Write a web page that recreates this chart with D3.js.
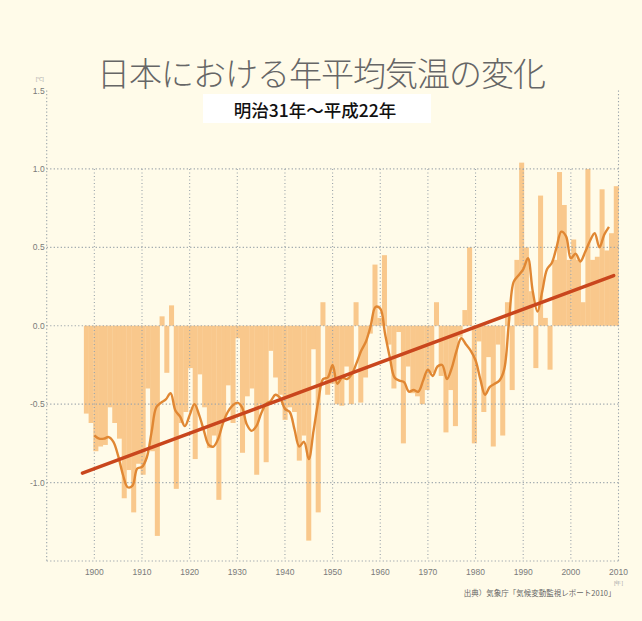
<!DOCTYPE html>
<html>
<head>
<meta charset="utf-8">
<script src="https://cdn.jsdelivr.net/npm/d3@7"></script>
<style>
  html, body { margin: 0; padding: 0; background: #fffbe9; }
  svg { display: block; }
</style>
</head>
<body>
<script>
/* Texts */
const titleText = '日本における年平均気温の変化';
const subtitleText = '明治31年～平成22年';
const sourceText = '出典）気象庁「気候変動監視レポート2010」';
const yUnitText = '[℃]';
const xUnitText = '[年]';

/* Annual anomaly (℃), one value per year starting at firstYear */
const firstYear = 1898;
const anomalies = [
  -0.56, -0.62,
  -0.80, -0.77, -0.76, -0.52, -0.62, -0.72, -1.10, -0.92, -1.19, -0.88,  // 1900s
  -0.95, -0.40, -0.80, -1.34,  0.06, -0.30,  0.13, -1.04, -0.62, -0.55,  // 1910s
  -0.27, -0.85, -0.31, -0.52, -0.78, -0.70, -1.11, -0.60, -0.38, -0.62,  // 1920s
  -0.08, -0.81, -0.45, -0.40, -0.95, -0.50, -0.87, -0.16, -0.33, -0.44,  // 1930s
  -0.60, -0.52, -0.55, -0.86, -0.70, -1.37, -0.15, -1.19,  0.15, -0.44,  // 1940s
  -0.37, -0.50, -0.51, -0.26, -0.50,  0.15, -0.49, -0.33, -0.05,  0.39,  // 1950s
   0.05,  0.45, -0.12, -0.40, -0.04, -0.75, -0.26, -0.43, -0.45, -0.50,  // 1960s
  -0.41, -0.30,  0.15, -0.32, -0.68, -0.41, -0.64, -0.07,  0.10,  0.50,  // 1970s
  -0.75, -0.10, -0.55, -0.20, -0.77, -0.12, -0.70,  0.15, -0.41,  0.42,  // 1980s
   1.04,  0.50,  0.22, -0.27,  0.83,  0.05, -0.28,  0.42,  0.98,  0.77,  // 1990s
   0.42,  0.55,  0.42,  0.15,  1.00,  0.42,  0.44,  0.87,  0.48,  0.59,  // 2000s
   0.89
];

/* Smoothed (5 year running mean) curve */
const smoothFirstYear = 1900;
const smoothed = [
  -0.70, -0.72, -0.72, -0.71, -0.74, -0.83, -0.95, -1.03, -1.02, -0.91,  // 1900s
  -0.90, -0.84, -0.68, -0.52, -0.49, -0.47, -0.43, -0.54, -0.58, -0.64,  // 1910s
  -0.57, -0.50, -0.57, -0.67, -0.76, -0.77, -0.72, -0.62, -0.55, -0.51,  // 1920s
  -0.49, -0.52, -0.63, -0.67, -0.64, -0.56, -0.50, -0.48, -0.44, -0.46,  // 1930s
  -0.53, -0.55, -0.66, -0.77, -0.74, -0.85, -0.67, -0.48, -0.34, -0.33,  // 1940s
  -0.25, -0.37, -0.33, -0.34, -0.31, -0.24, -0.16, -0.10,  0.00,  0.12,  // 1950s
   0.11, -0.05, -0.20, -0.33, -0.35, -0.36, -0.42, -0.41, -0.42, -0.35,  // 1960s
  -0.28, -0.32, -0.26, -0.25, -0.34, -0.27, -0.16, -0.08, -0.12, -0.16,  // 1970s
  -0.22, -0.34, -0.44, -0.39, -0.37, -0.35, -0.28,  0.02,  0.28,  0.32,  // 1980s
   0.36,  0.43,  0.22,  0.09,  0.22,  0.36,  0.40,  0.50,  0.60,  0.57,  // 1990s
   0.43,  0.46,  0.41,  0.47,  0.54,  0.59,  0.50,  0.58,  0.63         // 2000s
];

/* Long term trend line end points */
const trendYears = [1897.5, 2009];
const trendValues = [-0.94, 0.32];

/* Tick labels */
const xTickYears = [1900, 1910, 1920, 1930, 1940, 1950, 1960, 1970, 1980, 1990, 2000, 2010];
const yTickValues = [1.5, 1.0, 0.5, 0.0, -0.5, -1.0];

const width = 642;
const height = 621;

let svgD3 = d3.select('body')
    .append('svg')
    .attr('width', width)
    .attr('height', height);

svgD3.append('rect')
    .attr('width', width)
    .attr('height', height)
    .attr('fill', '#fffbe9');

/* Scales */
let x = d3.scaleLinear()
    .domain([1890, 2010])
    .range([46.7, 618.5]);
let y = d3.scaleLinear()
    .domain([-1.5, 1.5])
    .range([561, 90.5]);

let barData = anomalies.map((v, i) => ({ year: firstYear + i, value: v }));
let smoothData = smoothed.map((v, i) => ({ year: smoothFirstYear + i, value: v }));
let trendData = trendYears.map((yr, i) => ({ year: yr, value: trendValues[i] }));

let band = d3.scaleBand()
    .domain(barData.map(d => d.year))
    .range([x(1897.8), x(2010)])
    .padding(0);

/* Bars */
let barsD3 = svgD3.append('g')
    .attr('class', 'bars');
barsD3.selectAll('rect')
    .data(barData)
    .enter()
    .append('rect')
    .attr('x', d => band(d.year))
    .attr('width', band.bandwidth() + 0.3)
    .attr('y', d => y(Math.max(0, d.value)))
    .attr('height', d => Math.abs(y(d.value) - y(0)))
    .attr('fill', '#f9c88c');

/* Grid Lines */
let gridD3 = svgD3.append('g')
    .attr('class', 'grid-lines')
    .attr('stroke', '#9aa3aa')
    .attr('stroke-width', 1.1)
    .attr('stroke-dasharray', '1.2,2.3')
    .attr('fill', 'none');

gridD3.selectAll('.y-grid')
    .data(yTickValues.filter(v => v < y.domain()[1]).concat([y.domain()[0]]))
    .enter()
    .append('line')
    .attr('class', 'y-grid')
    .attr('x1', x(1890))
    .attr('x2', x(2010))
    .attr('y1', d => y(d))
    .attr('y2', d => y(d));

gridD3.selectAll('.x-grid')
    .data(xTickYears.filter(yr => yr < x.domain()[1]))
    .enter()
    .append('line')
    .attr('class', 'x-grid')
    .attr('x1', d => x(d))
    .attr('x2', d => x(d))
    .attr('y1', y(1.0))
    .attr('y2', y(-1.5));

gridD3.selectAll('.border')
    .data(x.domain())
    .enter()
    .append('line')
    .attr('class', 'border')
    .attr('x1', d => x(d))
    .attr('x2', d => x(d))
    .attr('y1', y(1.5))
    .attr('y2', y(-1.5));

/* Smoothed curve */
let smoothLine = d3.line()
    .x(d => x(d.year))
    .y(d => y(d.value))
    .curve(d3.curveCatmullRom.alpha(0.5));

svgD3.append('path')
    .datum(smoothData)
    .attr('class', 'smooth-line')
    .attr('d', smoothLine)
    .attr('fill', 'none')
    .attr('stroke', '#e08733')
    .attr('stroke-width', 2.4)
    .attr('stroke-linejoin', 'round');

/* Trend line */
let trendLine = d3.line()
    .x(d => x(d.year))
    .y(d => y(d.value));

svgD3.append('path')
    .datum(trendData)
    .attr('class', 'trend-line')
    .attr('d', trendLine)
    .attr('fill', 'none')
    .attr('stroke', '#c9461d')
    .attr('stroke-width', 3.4)
    .attr('stroke-linecap', 'round');

/* Y Axis labels */
let yAxisD3 = svgD3.append('g')
    .attr('class', 'y-axis')
    .attr('font-family', '"Liberation Sans", Arial, sans-serif')
    .attr('font-size', 8.5)
    .attr('fill', '#7a7a7a');
yAxisD3.selectAll('text')
    .data(yTickValues)
    .enter()
    .append('text')
    .attr('x', x(1890) - 2)
    .attr('y', d => y(d) + 3)
    .attr('text-anchor', 'end')
    .text(d => d3.format('.1f')(d).replace('−', '-'));
yAxisD3.append('text')
    .attr('x', x(1890) - 3)
    .attr('y', y(1.5) - 10)
    .attr('text-anchor', 'end')
    .attr('font-size', 5.5)
    .attr('fill', '#aaa')
    .text(yUnitText);

/* X Axis labels */
let xAxisD3 = svgD3.append('g')
    .attr('class', 'x-axis')
    .attr('font-family', '"Liberation Sans", Arial, sans-serif')
    .attr('font-size', 8.5)
    .attr('fill', '#7a7a7a');
xAxisD3.selectAll('text')
    .data(xTickYears)
    .enter()
    .append('text')
    .attr('x', d => x(d))
    .attr('y', y(-1.5) + 14)
    .attr('text-anchor', 'middle')
    .text(d => d);
xAxisD3.append('text')
    .attr('x', x(2010))
    .attr('y', y(-1.5) + 24)
    .attr('text-anchor', 'middle')
    .attr('font-size', 5.5)
    .attr('fill', '#aaa')
    .text(xUnitText);

/* Source */
svgD3.append('text')
    .attr('x', x(2010) - 3)
    .attr('y', 596)
    .attr('text-anchor', 'end')
    .attr('font-family', '"Noto Sans CJK JP", sans-serif')
    .attr('font-size', 7.5)
    .attr('fill', '#666')
    .text(sourceText);

/* Title */
svgD3.append('text')
    .attr('x', 321)
    .attr('y', 86)
    .attr('text-anchor', 'middle')
    .attr('font-family', '"Noto Sans CJK JP", sans-serif')
    .attr('font-weight', 300)
    .attr('font-size', 33)
    .attr('letter-spacing', -1)
    .attr('fill', '#666')
    .text(titleText);

/* Subtitle box */
svgD3.append('rect')
    .attr('x', 203)
    .attr('y', 94)
    .attr('width', 228)
    .attr('height', 29)
    .attr('fill', '#ffffff');
svgD3.append('text')
    .attr('x', 315)
    .attr('y', 117)
    .attr('text-anchor', 'middle')
    .attr('font-family', '"Noto Sans CJK JP", sans-serif')
    .attr('font-weight', 500)
    .attr('font-size', 17.5)
    .attr('fill', '#111')
    .text(subtitleText);
</script>
</body>
</html>
